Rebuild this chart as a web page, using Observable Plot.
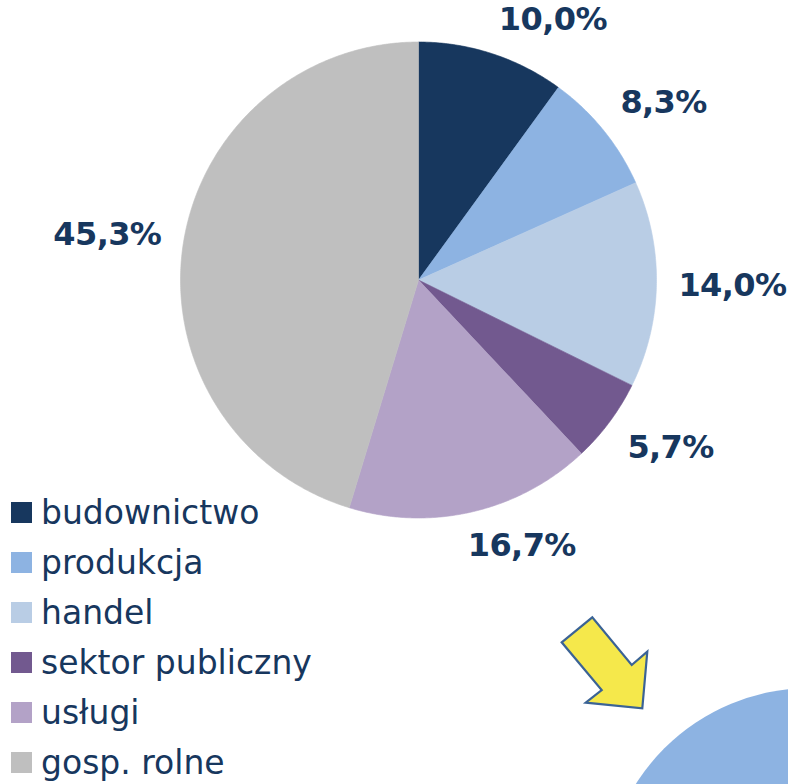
<!DOCTYPE html>
<html><head><meta charset="utf-8">
<script src="https://cdn.jsdelivr.net/npm/d3@7"></script>
<script src="https://cdn.jsdelivr.net/npm/@observablehq/plot@0.6"></script>
<style>
body{margin:0;background:#fff;}
#wrap{position:relative;width:788px;height:784px;overflow:hidden;background:#fff;}
#chart{position:absolute;left:0;top:0;}
#chart text{letter-spacing:-0.6px;}
#deco{position:absolute;left:0;top:0;}
#legend{position:absolute;left:11px;top:487px;}
#legend .lg{font-family:"DejaVu Sans",sans-serif;font-size:33px;color:#17375e;margin:0;}
#legend .lg-swatch{height:50px;padding-bottom:0;margin:0;}
#legend .lg-swatch > svg{margin-right:9px;}
</style></head><body>
<div id="wrap"><div id="chart"></div><svg id="deco" width="788" height="784"></svg><div id="legend"></div></div>
<script>
// ---- data ----
const categories = ["budownictwo", "produkcja", "handel", "sektor publiczny", "usługi", "gosp. rolne"];
const shares = [10.0, 8.3, 14.0, 5.7, 16.7, 45.3];
const labels = ["10,0%", "8,3%", "14,0%", "5,7%", "16,7%", "45,3%"];
const colors = ["#17375e", "#8db3e2", "#b9cde5", "#72598f", "#b3a2c7", "#bfbfbf"];

// ---- geometry ----
const R = 238;              // pie radius in px
const CX = 418, CY = 279.5; // pie centre in px
const textColor = "#17375e";
const labelFont = 32;

const total = d3.sum(shares);
const slices = [];
let acc = 0;
shares.forEach((v, i) => {
  const a0 = acc / total * 2 * Math.PI;
  acc += v;
  const a1 = acc / total * 2 * Math.PI;
  slices.push({cat: categories[i], a0, a1, label: labels[i]});
});

// slice polygons (unit circle, y up, clockwise from top)
const pts = [];
for (const s of slices) {
  pts.push({cat: s.cat, x: 0, y: 0});
  const n = Math.max(2, Math.ceil((s.a1 - s.a0) / (Math.PI / 360)));
  for (let k = 0; k <= n; k++) {
    const a = s.a0 + (s.a1 - s.a0) * k / n;
    pts.push({cat: s.cat, x: Math.sin(a), y: Math.cos(a)});
  }
  pts.push({cat: s.cat, x: 0, y: 0});
}

// label placement (outside end)
const ctx = document.createElement("canvas").getContext("2d");
ctx.font = `bold ${labelFont}px "DejaVu Sans"`;
const clamp = t => Math.max(-1, Math.min(1, t));
const pad = 22, H = 26;
const labelData = slices.map(s => {
  const m = (s.a0 + s.a1) / 2, sn = Math.sin(m), cs = Math.cos(m);
  const W = ctx.measureText(s.label).width - 0.6 * s.label.length;
  const ra = (R + pad) / R;
  return {
    text: s.label,
    x: ra * sn + (W / 2) * clamp(3.6 * sn) / R,
    y: ra * cs + (H / 2) * clamp(3.6 * cs) / R
  };
});

const chart = Plot.plot({
  width: 788,
  height: 784,
  margin: 0,
  style: {background: "transparent", fontFamily: "DejaVu Sans, sans-serif"},
  x: {domain: [-1, 1], range: [CX - R, CX + R], axis: null},
  y: {domain: [-1, 1], range: [CY + R, CY - R], axis: null},
  color: {domain: categories, range: colors},
  marks: [
    Plot.line(pts, {x: "x", y: "y", z: "cat", fill: "cat", stroke: "cat", strokeWidth: 0.6, curve: "linear"}),
    Plot.text(labelData, {x: "x", y: "y", text: "text", fontSize: labelFont, fontWeight: "bold",
      fill: textColor, textAnchor: "middle", lineAnchor: "middle"})
  ]
});
document.getElementById("chart").append(chart);

const legend = Plot.legend({
  color: {domain: categories, range: colors, type: "ordinal"},
  legend: "swatches",
  columns: 1,
  swatchSize: 21,
  className: "lg",
  style: {fontFamily: "DejaVu Sans, sans-serif", fontSize: "33px", color: textColor}
});
document.getElementById("legend").append(legend);

// ---- decorative shapes (not data) ----
const deco = d3.select("#deco");
deco.append("circle").attr("cx", 810).attr("cy", 894).attr("r", 206).attr("fill", "#8db3e2");
deco.append("polygon")
  .attr("points", "561.7,642.3 592.3,617.3 631.7,665 647.3,651.7 642.3,708.3 585.7,702.7 601.7,690")
  .attr("fill", "#f5e84b").attr("stroke", "#3b6395").attr("stroke-width", 2.2).attr("stroke-linejoin", "miter");
</script>
</body></html>
